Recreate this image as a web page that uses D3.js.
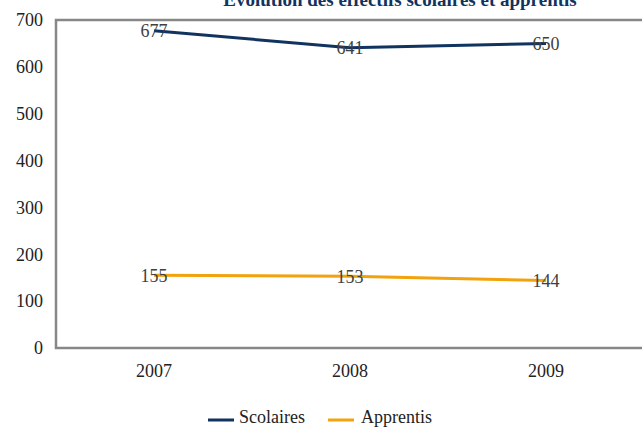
<!DOCTYPE html>
<html><head><meta charset="utf-8">
<script src="https://cdn.jsdelivr.net/npm/d3@7"></script>
<style>body{margin:0;background:#fff}svg{display:block}</style>
</head><body>
<svg id="c" width="642" height="427"></svg>
<script>
const categories = ["2007", "2008", "2009"];
const scolaires = [677, 641, 650];
const apprentis = [155, 153, 144];
const yTicks = [0, 100, 200, 300, 400, 500, 600, 700];
const seriesNames = ["Scolaires", "Apprentis"];
const colors = ["#10335f", "#f2a20c"];
const title = "Évolution des effectifs scolaires et apprentis";

const svg = d3.select("#c");
const font = "'Liberation Serif', 'Times New Roman', serif";
const L = 56, T = 20, B = 348, R = 56 + 3 * 196;
const x = d3.scaleBand().domain(categories).range([L, R]);
const y = d3.scaleLinear().domain([0, 700]).range([B, T]);

svg.append("text").attr("x", 400).attr("y", 6).attr("text-anchor", "middle")
  .attr("font-family", font).attr("font-size", 19).attr("font-weight", "bold")
  .attr("fill", "#10335f").text(title);

// plot border
svg.append("rect").attr("x", L).attr("y", T).attr("width", R - L).attr("height", B - T)
  .attr("fill", "none").attr("stroke", "#878787").attr("stroke-width", 2.5);

const yAxis = d3.axisLeft(y).tickValues(yTicks).tickSize(0).tickPadding(13);
const gy = svg.append("g").attr("transform", `translate(${L},0)`).call(yAxis);
gy.select(".domain").remove();
gy.selectAll("text").attr("font-family", font).attr("font-size", 18).attr("fill", "#222");

const xAxis = d3.axisBottom(x).tickSize(0).tickPadding(16);
const gx = svg.append("g").attr("transform", `translate(0,${B})`).call(xAxis);
gx.select(".domain").remove();
gx.selectAll("text").attr("font-family", font).attr("font-size", 18).attr("fill", "#222");

const line = d3.line().x((d, i) => x(categories[i]) + x.bandwidth() / 2).y(d => y(d));
[scolaires, apprentis].forEach((s, k) => {
  svg.append("path").datum(s).attr("d", line).attr("fill", "none")
    .attr("stroke", colors[k]).attr("stroke-width", 3);
});
[scolaires, apprentis].forEach((s, k) => {
  svg.selectAll(null).data(s).enter().append("text")
    .attr("x", (d, i) => x(categories[i]) + x.bandwidth() / 2)
    .attr("y", d => y(d)).attr("dy", "0.35em").attr("text-anchor", "middle")
    .attr("font-family", font).attr("font-size", 18).attr("fill", "#404040")
    .text(d => d);
});

// legend
const leg = [{x: 208, tx: 239}, {x: 328, tx: 361}];
seriesNames.forEach((n, k) => {
  svg.append("line").attr("x1", leg[k].x).attr("x2", leg[k].x + 26)
    .attr("y1", 420).attr("y2", 420).attr("stroke", colors[k]).attr("stroke-width", 3);
  svg.append("text").attr("x", leg[k].tx).attr("y", 423)
    .attr("font-family", font).attr("font-size", 18).attr("fill", "#222").text(n);
});
</script>
</body></html>
